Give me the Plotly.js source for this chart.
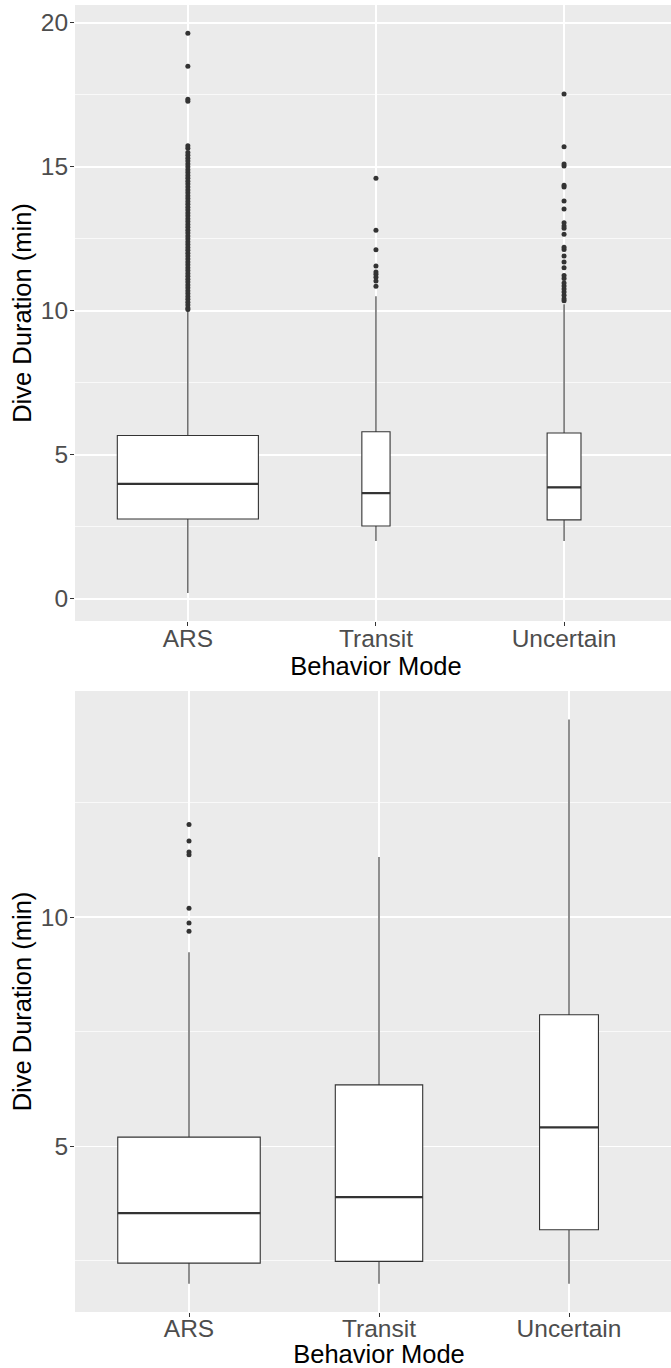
<!DOCTYPE html>
<html>
<head>
<meta charset="utf-8">
<script src="https://cdn.plot.ly/plotly-3.0.1.min.js"></script>
<style>
  html, body { margin: 0; padding: 0; overflow: hidden; background: #ffffff; }
  #chart { width: 683px; height: 1368px; }
</style>
</head>
<body>
<div id="chart"></div>
<script>
// ---------- DATA ----------
const categories = ['ARS', 'Transit', 'Uncertain'];

// Top panel box statistics (min)
const topQ1 = [2.77, 2.53, 2.74];
const topMedian = [3.99, 3.67, 3.87];
const topQ3 = [5.67, 5.80, 5.76];
const topLowerWhisker = [0.20, 2.01, 2.01];
const topUpperWhisker = [10.02, 10.51, 10.23];

// Top panel outliers
const topOutliersARS = [
  10.05, 10.1, 10.2, 10.3, 10.4, 10.5, 10.6, 10.7, 10.8, 10.9,
  11.0, 11.1, 11.2, 11.3, 11.4, 11.5, 11.6, 11.7, 11.8, 11.9,
  12.0, 12.1, 12.2, 12.3, 12.4, 12.5, 12.6, 12.7, 12.8, 12.9,
  13.0, 13.1, 13.2, 13.3, 13.4, 13.5, 13.6, 13.7, 13.8, 13.9,
  14.0, 14.1, 14.2, 14.3, 14.4, 14.5, 14.6, 14.7, 14.8, 14.9,
  15.0, 15.1, 15.2, 15.3, 15.4, 15.5, 15.65, 15.73, 17.28, 17.35,
  18.49, 19.64
];
const topOutliersTransit = [10.85, 11.04, 11.17, 11.27, 11.35, 11.56, 12.12, 12.8, 14.6];
const topOutliersUncertain = [
  10.35, 10.42, 10.54, 10.65, 10.76, 10.86, 10.97, 11.12, 11.23, 11.5,
  11.7, 11.9, 12.13, 12.21, 12.66, 12.87, 12.95, 13.06, 13.54, 13.81,
  14.3, 14.36, 15.03, 15.1, 15.7, 17.53
];

// Bottom panel box statistics (min)
const botQ1 = [2.45, 2.49, 3.18];
const botMedian = [3.54, 3.89, 5.41];
const botQ3 = [5.20, 6.34, 7.87];
const botLowerWhisker = [2.00, 2.00, 2.00];
const botUpperWhisker = [9.23, 11.31, 14.31];

// Bottom panel outliers
const botOutliersARS = [9.69, 9.87, 10.19, 11.36, 11.42, 11.66, 12.02];
const botOutliersTransit = [];
const botOutliersUncertain = [];

const yTickVals = [0, 5, 10, 15, 20];
const xTitle = 'Behavior Mode';
const yTitle = 'Dive Duration (min)';

// ---------- STYLE ----------
const topBoxWidths = [0.75, 0.15, 0.18];
const botBoxWidths = [0.75, 0.46, 0.31];
const LINE = '#333333';
const FONT = 'Liberation Sans, Arial, sans-serif';

function panelTraces(q1, med, q3, lo, hi, widths, outliers, xa, ya) {
  const traces = [];
  categories.forEach((c, i) => {
    traces.push({
      type: 'box', x: [i], q1: [q1[i]], median: [med[i]], q3: [q3[i]],
      lowerfence: [lo[i]], upperfence: [hi[i]],
      width: widths[i], whiskerwidth: 0,
      fillcolor: '#ffffff', line: { color: LINE, width: 1.1 },
      boxpoints: false, hoverinfo: 'skip', showlegend: false,
      xaxis: xa, yaxis: ya
    });
    traces.push({
      type: 'scatter', mode: 'lines',
      x: [i - widths[i] / 2, i + widths[i] / 2], y: [med[i], med[i]],
      line: { color: LINE, width: 2.2 }, hoverinfo: 'skip', showlegend: false,
      xaxis: xa, yaxis: ya
    });
    traces.push({
      type: 'scatter', mode: 'markers',
      x: outliers[i].map(() => i), y: outliers[i],
      marker: { color: LINE, size: 5 }, hoverinfo: 'skip', showlegend: false,
      xaxis: xa, yaxis: ya
    });
  });
  return traces;
}

const data = [].concat(
  panelTraces(topQ1, topMedian, topQ3, topLowerWhisker, topUpperWhisker, topBoxWidths,
    [topOutliersARS, topOutliersTransit, topOutliersUncertain], 'x', 'y'),
  panelTraces(botQ1, botMedian, botQ3, botLowerWhisker, botUpperWhisker, botBoxWidths,
    [botOutliersARS, botOutliersTransit, botOutliersUncertain], 'x2', 'y2')
);

function xAxis(domain, anchor, labelStandoff, titleStandoff) {
  return {
    domain: domain, anchor: anchor, range: [-0.6, 2.6],
    tickmode: 'array', tickvals: [0, 1, 2], ticktext: categories,
    ticks: 'outside', ticklen: 4, tickwidth: 1, tickcolor: LINE,
    ticklabelstandoff: labelStandoff,
    tickfont: { family: FONT, size: 24.5, color: '#4D4D4D' },
    showgrid: true, gridcolor: '#ffffff', gridwidth: 1.4,
    zeroline: false, showline: false, automargin: false, fixedrange: true,
    title: { text: xTitle, font: { family: FONT, size: 25.5, color: '#000000' }, standoff: titleStandoff }
  };
}
function yAxis(domain, anchor, range) {
  return {
    domain: domain, anchor: anchor, range: range,
    tickmode: 'array', tickvals: yTickVals,
    ticks: 'outside', ticklen: 4, tickwidth: 1, tickcolor: LINE,
    ticklabelstandoff: -3,
    tickfont: { family: FONT, size: 24.5, color: '#4D4D4D' },
    showgrid: true, gridcolor: '#ffffff', gridwidth: 1.4,
    minor: { dtick: 2.5, tick0: 0, showgrid: true, gridcolor: '#ffffff', gridwidth: 0.7, ticks: '' },
    zeroline: false, showline: false, automargin: false, fixedrange: true,
    title: { text: yTitle, font: { family: FONT, size: 25.5, color: '#000000' }, standoff: 1 }
  };
}

const layout = {
  width: 683, height: 1368,
  margin: { l: 75, r: 0, t: 5, b: 56, pad: 0 },
  paper_bgcolor: '#ffffff', plot_bgcolor: '#EBEBEB',
  showlegend: false,
  xaxis: xAxis([0, 0.99], 'y', -8, 0),
  yaxis: yAxis([0.5287, 1], 'x', [-0.77, 20.62]),
  xaxis2: xAxis([0, 1], 'y2', -9, 2),
  yaxis2: yAxis([0, 0.4751], 'x2', [1.385, 14.93]),
  font: { family: FONT }
};

Plotly.newPlot('chart', data, layout, { staticPlot: true, displayModeBar: false });
</script>
</body>
</html>
